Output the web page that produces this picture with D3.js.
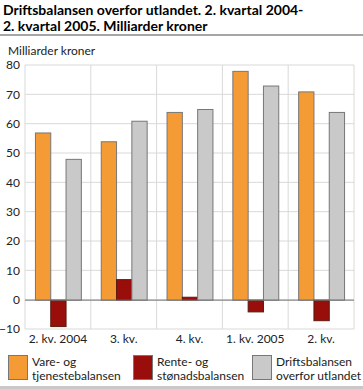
<!DOCTYPE html>
<html>
<head>
<meta charset="utf-8">
<script src="https://cdn.jsdelivr.net/npm/d3@7"></script>
<style>
  body { margin: 0; background: #fff; }
  svg { display: block; font-family: Lato, sans-serif; }
</style>
</head>
<body>
<div id="chart"></div>
<script>
const categories = ["2. kv. 2004", "3. kv.", "4. kv.", "1. kv. 2005", "2. kv."]
const vareValues = [57, 54, 64, 78, 71]
const renteValues = [-9, 7, 1, -4, -7]
const driftValues = [48, 61, 65, 73, 64]
const seriesNames = [["Vare- og", "tjenestebalansen"], ["Rente- og", "stønadsbalansen"], ["Driftsbalansen", "overfor utlandet"]]
const seriesColors = ["#f59b35", "#990e0a", "#c9c9c9"]
const yTicks = [-10, 0, 10, 20, 30, 40, 50, 60, 70, 80]

const width = 363
const height = 389
const plot = { left: 25, right: 354, top: 65, bottom: 329 }
const font = "Lato, sans-serif"

const svg = d3.select("#chart")
    .append("svg")
    .attr("width", width)
    .attr("height", height)

// title
const title = svg.append("text")
    .attr("font-size", 14)
    .attr("font-weight", "bold")
    .attr("fill", "#000")
title.append("tspan").attr("x", 3).attr("y", 15).text("Driftsbalansen overfor utlandet. 2. kvartal 2004-")
title.append("tspan").attr("x", 3).attr("y", 31).text("2. kvartal 2005. Milliarder kroner")

svg.append("rect")
    .attr("x", 0).attr("y", 34)
    .attr("width", width).attr("height", 2)
    .attr("fill", "#a6a6a6")

svg.append("text")
    .attr("x", 8).attr("y", 55)
    .attr("font-size", 12)
    .attr("fill", "#222")
    .text("Milliarder kroner")

const x = d3.scaleBand()
    .domain(categories)
    .range([plot.left, plot.right])

const inner = d3.scaleBand()
    .domain([0, 1, 2])
    .range([0, x.bandwidth()])
    .paddingOuter(0.65)
    .paddingInner(0)

const y = d3.scaleLinear()
    .domain([-10, 80])
    .range([plot.bottom, plot.top])

// grid
const grid = svg.append("g")
grid.selectAll("line.h")
    .data(yTicks)
    .join("line")
    .attr("x1", plot.left).attr("x2", plot.right)
    .attr("y1", d => y(d)).attr("y2", d => y(d))
    .attr("stroke", "#d9d9d9")
    .attr("stroke-width", 1)

grid.selectAll("line.v")
    .data(categories)
    .join("line")
    .attr("x1", (d, i) => plot.left + x.bandwidth() * (i + 1))
    .attr("x2", (d, i) => plot.left + x.bandwidth() * (i + 1))
    .attr("y1", plot.top).attr("y2", plot.bottom)
    .attr("stroke", "#d9d9d9")

grid.append("line")
    .attr("x1", plot.left).attr("x2", plot.left)
    .attr("y1", plot.top).attr("y2", plot.bottom)
    .attr("stroke", "#d9d9d9")

// y axis
const yAxis = svg.append("g")
    .attr("transform", `translate(${plot.left - 5},0)`)
    .call(d3.axisLeft(y).tickValues(yTicks).tickSize(0).tickPadding(0))
yAxis.select(".domain").remove()
yAxis.selectAll("text")
    .attr("font-size", 12)
    .attr("font-family", font)
    .attr("fill", "#222")

// bars
const series = [vareValues, renteValues, driftValues]
series.forEach((values, s) => {
  svg.append("g")
      .selectAll("rect")
      .data(values)
      .join("rect")
      .attr("x", (d, i) => x(categories[i]) + inner(s) + 0.5)
      .attr("y", d => y(Math.max(0, d)) + 0.5)
      .attr("width", inner.bandwidth())
      .attr("height", d => Math.abs(y(d) - y(0)))
      .attr("fill", seriesColors[s])
      .attr("stroke", s === 1 ? "#5a1a10" : "#777")
      .attr("stroke-width", 1)
})

// zero line
svg.append("line")
    .attr("x1", plot.left).attr("x2", plot.right)
    .attr("y1", y(0) + 0.5).attr("y2", y(0) + 0.5)
    .attr("stroke", "#777")

// x axis
const xAxis = svg.append("g")
    .attr("transform", `translate(0,${plot.bottom})`)
    .call(d3.axisBottom(x).tickSize(0).tickPadding(5))
xAxis.select(".domain").remove()
xAxis.selectAll("text")
    .attr("font-size", 12)
    .attr("font-family", font)
    .attr("fill", "#222")

// legend
const legendX = [8, 133, 252]
const legend = svg.append("g")
seriesNames.forEach((lines, i) => {
  const g = legend.append("g").attr("transform", `translate(${legendX[i]},355)`)
  g.append("rect")
      .attr("x", 0.5).attr("y", 0.5)
      .attr("width", 19).attr("height", 24)
      .attr("fill", seriesColors[i])
      .attr("stroke", "#777")
  lines.forEach((t, j) => {
    g.append("text")
        .attr("x", 24)
        .attr("y", 11 + j * 14)
        .attr("font-size", 12)
        .attr("fill", "#222")
        .text(t)
  })
})

svg.append("rect")
    .attr("x", 0).attr("y", 386)
    .attr("width", width).attr("height", 3)
    .attr("fill", "#c8c8c8")
</script>
</body>
</html>
